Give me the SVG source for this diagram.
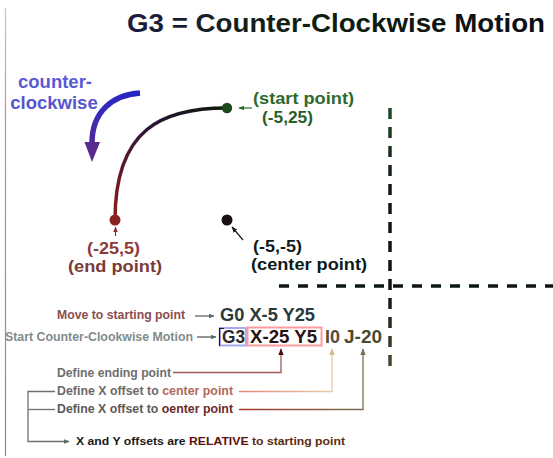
<svg xmlns="http://www.w3.org/2000/svg" width="553" height="458" viewBox="0 0 553 458">
<defs>
<style>
text{font-family:"Liberation Sans",Arial,Helvetica,sans-serif;font-weight:bold}
.lbl{font-size:16px}
.small{font-size:12px}
.code{font-size:17.5px}
.thin{fill:none;stroke-width:1.3}
</style>
<linearGradient id="gArc" gradientUnits="userSpaceOnUse" x1="227" y1="108" x2="115" y2="220">
<stop offset="0" stop-color="#0c1a0c"/>
<stop offset="0.45" stop-color="#2c1438"/>
<stop offset="1" stop-color="#8a1c1c"/>
</linearGradient>
<linearGradient id="gBlue" gradientUnits="userSpaceOnUse" x1="140" y1="93" x2="92" y2="162">
<stop offset="0" stop-color="#2424c4"/>
<stop offset="0.5" stop-color="#3a2ab8"/>
<stop offset="1" stop-color="#5a2a8c"/>
</linearGradient>
<linearGradient id="gVert" gradientUnits="userSpaceOnUse" x1="0" y1="108" x2="0" y2="370">
<stop offset="0" stop-color="#1f4a25"/>
<stop offset="0.3" stop-color="#121812"/>
<stop offset="0.7" stop-color="#121212"/>
<stop offset="1" stop-color="#4e4a30"/>
</linearGradient>
<linearGradient id="gEdge" gradientUnits="userSpaceOnUse" x1="0" y1="8" x2="0" y2="456">
<stop offset="0" stop-color="#d8c890"/>
<stop offset="0.25" stop-color="#9a9ab4"/>
<stop offset="1" stop-color="#8a8a8a"/>
</linearGradient>
<linearGradient id="gTitle" gradientUnits="userSpaceOnUse" x1="127" y1="0" x2="545" y2="0">
<stop offset="0" stop-color="#1c1c40"/>
<stop offset="0.4" stop-color="#102010"/>
<stop offset="1" stop-color="#0c0c18"/>
</linearGradient>
<linearGradient id="gCenterLine" gradientUnits="userSpaceOnUse" x1="239" y1="0" x2="332" y2="0">
<stop offset="0" stop-color="#e08a78"/>
<stop offset="1" stop-color="#e8c8a8"/>
</linearGradient>
<linearGradient id="gOenterLine" gradientUnits="userSpaceOnUse" x1="239" y1="0" x2="363" y2="0">
<stop offset="0" stop-color="#a83a28"/>
<stop offset="1" stop-color="#7a7050"/>
</linearGradient>
<marker id="mGrey" viewBox="0 0 10 10" refX="9" refY="5" markerWidth="6" markerHeight="6" orient="auto" markerUnits="userSpaceOnUse"><path d="M0,1 L10,5 L0,9 Z" fill="#5a6a6a"/></marker>
<marker id="mBlack" viewBox="0 0 10 10" refX="9" refY="5" markerWidth="6" markerHeight="6" orient="auto" markerUnits="userSpaceOnUse"><path d="M0,1 L10,5 L0,9 Z" fill="#1a1a1a"/></marker>
<marker id="mGreen" viewBox="0 0 10 10" refX="9" refY="5" markerWidth="6" markerHeight="6" orient="auto" markerUnits="userSpaceOnUse"><path d="M0,1 L10,5 L0,9 Z" fill="#2d6a2d"/></marker>
<marker id="mRed" viewBox="0 0 10 10" refX="9" refY="5" markerWidth="6" markerHeight="6" orient="auto" markerUnits="userSpaceOnUse"><path d="M0,1 L10,5 L0,9 Z" fill="#8b3030"/></marker>
<marker id="mDkRed" viewBox="0 0 10 10" refX="9" refY="5" markerWidth="7" markerHeight="7" orient="auto" markerUnits="userSpaceOnUse"><path d="M0,1 L10,5 L0,9 Z" fill="#4a0808"/></marker>
<marker id="mTan" viewBox="0 0 10 10" refX="9" refY="5" markerWidth="7" markerHeight="7" orient="auto" markerUnits="userSpaceOnUse"><path d="M0,1 L10,5 L0,9 Z" fill="#d4b894"/></marker>
<marker id="mOlive" viewBox="0 0 10 10" refX="9" refY="5" markerWidth="7" markerHeight="7" orient="auto" markerUnits="userSpaceOnUse"><path d="M0,1 L10,5 L0,9 Z" fill="#7a7050"/></marker>
</defs>

<rect x="0" y="0" width="553" height="458" fill="#ffffff"/>
<line x1="5.5" y1="8" x2="5.5" y2="456" stroke="url(#gEdge)" stroke-width="1.2"/>

<g id="title">
<text x="127" y="32" font-size="26" textLength="418" lengthAdjust="spacingAndGlyphs" fill="url(#gTitle)">G3 = Counter-Clockwise Motion</text>
</g>

<g id="axes">
<line x1="390" y1="108" x2="390" y2="370" stroke="url(#gVert)" stroke-width="3.5" stroke-dasharray="11 8"/>
<line x1="279" y1="286" x2="553" y2="286" stroke="#0c1616" stroke-width="3.5" stroke-dasharray="10 9"/>
</g>

<g id="direction">
<text x="55" y="88" font-size="18.5" text-anchor="middle" fill="#5a5ad6">counter-</text>
<text x="54" y="109" font-size="18.5" text-anchor="middle" fill="#5656d0">clockwise</text>
<path d="M140,93 C112,95 92,112 92,143" fill="none" stroke="url(#gBlue)" stroke-width="5.5"/>
<path d="M84.5,142 L100,142 L92,162 Z" fill="#5a2a8c"/>
</g>

<g id="arc">
<path d="M227,108 C163,108 115,128 115,220" fill="none" stroke="url(#gArc)" stroke-width="3.5"/>
</g>

<g id="start-point">
<circle cx="227" cy="108" r="5.2" fill="#1c4a1c"/>
<text class="lbl" x="253" y="104" textLength="101" lengthAdjust="spacingAndGlyphs" fill="#2d6a2d">(start point)</text>
<text class="lbl" x="262" y="123" textLength="51" lengthAdjust="spacingAndGlyphs" fill="#2a5e2a">(-5,25)</text>
</g>

<g id="end-point">
<circle cx="115" cy="220" r="5.5" fill="#8b2222"/>
<text class="lbl" x="87" y="254" textLength="53" lengthAdjust="spacingAndGlyphs" fill="#8b3a3a">(-25,5)</text>
<text class="lbl" x="68" y="272" textLength="94" lengthAdjust="spacingAndGlyphs" fill="#7a3a3a">(end point)</text>
</g>

<g id="center-point">
<circle cx="227" cy="220" r="5.5" fill="#1a1010"/>
<text class="lbl" x="253" y="252" textLength="49" lengthAdjust="spacingAndGlyphs" fill="#0c1a1a">(-5,-5)</text>
<text class="lbl" x="251" y="270" textLength="116" lengthAdjust="spacingAndGlyphs" fill="#0c1a1a">(center point)</text>
</g>

<g id="move-line">
<text class="small" x="57" y="319" textLength="128" lengthAdjust="spacingAndGlyphs" fill="#8b4e4e">Move to starting point</text>
<text class="code" x="220" y="321" textLength="95" lengthAdjust="spacingAndGlyphs" fill="#2a3a3a">G0 X-5 Y25</text>
</g>

<g id="g3-line">
<text class="small" x="5" y="341" textLength="188" lengthAdjust="spacingAndGlyphs" fill="#7f8c8c">Start Counter-Clookwise Motion</text>
<rect x="220" y="328" width="26" height="17.5" fill="none" stroke="#a8a8f4" stroke-width="2"/>
<rect x="247.5" y="327.5" width="74" height="18" fill="none" stroke="#ff9c9c" stroke-width="2"/>
<path d="M224,328.5 H219.5 V346" fill="none" stroke="#1a1a1a" stroke-width="1.2"/>
<text class="code" x="222" y="343" textLength="23" lengthAdjust="spacingAndGlyphs" fill="#2a2a2a">G3</text>
<text class="code" x="250" y="343" textLength="67" lengthAdjust="spacingAndGlyphs" fill="#2a1010">X-25 Y5</text>
<text class="code" x="325" y="343" textLength="15" lengthAdjust="spacingAndGlyphs" fill="#5a4a38">I0</text>
<text class="code" x="344" y="343" textLength="38" lengthAdjust="spacingAndGlyphs" fill="#4a4a2a">J-20</text>
</g>

<g id="define-end">
<text class="small" x="57" y="377" textLength="114" lengthAdjust="spacingAndGlyphs" fill="#6e6e6e">Define ending point</text>
</g>

<g id="define-center">
<text class="small" x="57" y="395" textLength="176" lengthAdjust="spacingAndGlyphs" fill="#6e6a6a">Define X offset to <tspan fill="#b06a5a">center point</tspan></text>
</g>

<g id="define-oenter">
<text class="small" x="57" y="413" textLength="176" lengthAdjust="spacingAndGlyphs" fill="#5e5858">Define X offset to <tspan fill="#6a2a2a">oenter point</tspan></text>
</g>

<g id="relative-note">
<text x="76" y="445" font-size="11.5" textLength="269" lengthAdjust="spacingAndGlyphs" fill="#1a1a1a">X and Y offsets are <tspan fill="#5a1010">RELATIVE</tspan><tspan fill="#5a2e12"> to starting point</tspan></text>
</g>

<g id="connectors">
<line x1="252" y1="108" x2="239" y2="108" stroke="#2d6a2d" stroke-width="1.2" marker-end="url(#mGreen)"/>
<line x1="115.5" y1="236" x2="115.5" y2="227" stroke="#8b3030" stroke-width="1.2" marker-end="url(#mRed)"/>
<line x1="243" y1="240" x2="232" y2="227" stroke="#1a1a1a" stroke-width="1.2" marker-end="url(#mBlack)"/>
<line x1="195" y1="316" x2="214" y2="316" stroke="#5a6a6a" stroke-width="1.3" marker-end="url(#mGrey)"/>
<line x1="197" y1="337" x2="216" y2="337" stroke="#5a5a5a" stroke-width="1.3" marker-end="url(#mGrey)"/>
<path class="thin" d="M173,372.5 H281 V349" stroke="#a05a5a" marker-end="url(#mDkRed)"/>
<path class="thin" d="M239,391.5 H332 V349" stroke="url(#gCenterLine)" marker-end="url(#mTan)"/>
<path class="thin" d="M239,409.5 H363 V349" stroke="url(#gOenterLine)" marker-end="url(#mOlive)"/>
<path class="thin" d="M55,391.5 H28 V441.5 H69" stroke="#707070" marker-end="url(#mGrey)"/>
<line x1="28" y1="409.5" x2="55" y2="409.5" stroke="#707070" stroke-width="1.3"/>
</g>
</svg>
